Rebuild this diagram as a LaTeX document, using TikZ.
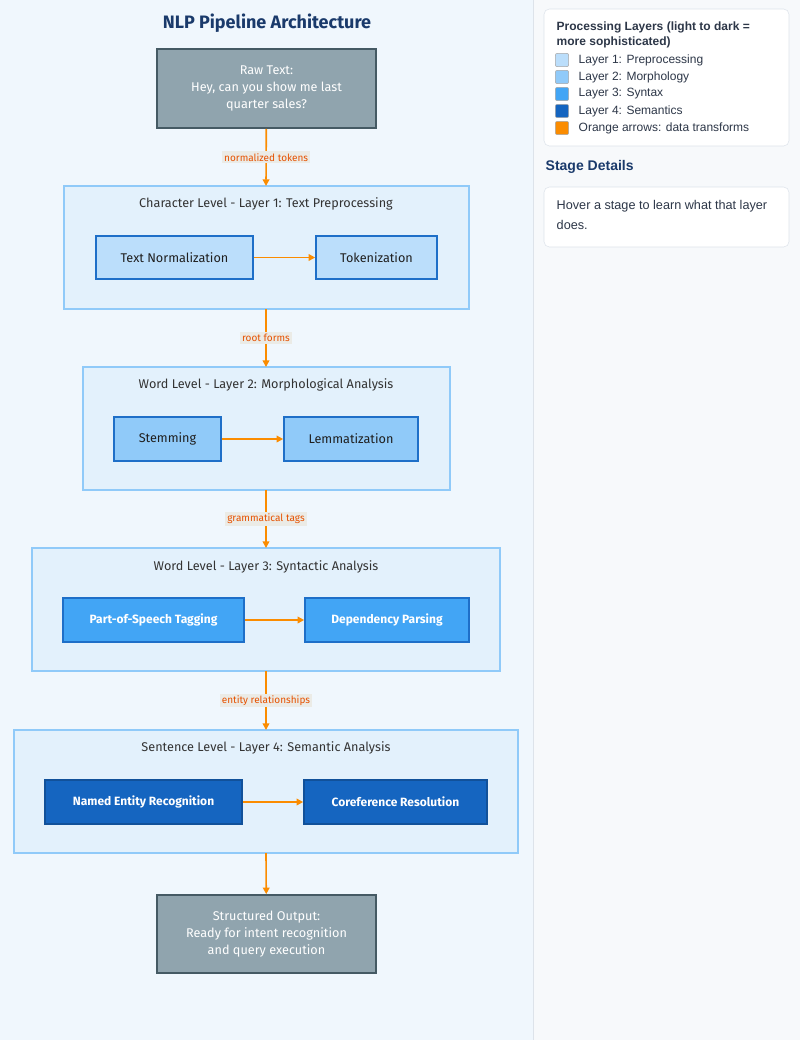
\documentclass[tikz,border=0pt]{standalone}
\usepackage{fontspec}
\setmainfont{Fira Sans}
\newfontfamily\lib{Liberation Sans}
\usetikzlibrary{arrows.meta}
\definecolor{leftbg}{HTML}{F0F7FD}
\definecolor{rightbg}{HTML}{F7F9FB}
\definecolor{titleblue}{HTML}{1A3A6B}
\definecolor{ioFill}{HTML}{90A4AE}
\definecolor{ioDraw}{HTML}{455A64}
\definecolor{clFill}{HTML}{E3F1FC}
\definecolor{clDraw}{HTML}{90CAF9}
\definecolor{lA}{HTML}{BBDEFB}
\definecolor{lB}{HTML}{90CAF9}
\definecolor{lC}{HTML}{42A5F5}
\definecolor{lD}{HTML}{1565C0}
\definecolor{bordA}{HTML}{1E6FC8}
\definecolor{orng}{HTML}{FB8C00}
\definecolor{lbltxt}{HTML}{E65100}
\definecolor{lblbg}{HTML}{EBEBE6}
\definecolor{txtdark}{HTML}{333333}
\definecolor{legtxt}{HTML}{2D3748}
\definecolor{legdraw}{HTML}{DDE3EA}
\begin{document}
\begin{tikzpicture}[x=0.75pt,y=-0.75pt,
  box/.style={draw, line width=1.2pt, inner sep=0pt, font=\fontsize{9.5}{13}\selectfont},
  io/.style={box, fill=ioFill, draw=ioDraw, text=white, align=center},
  cl/.style={draw=clDraw, fill=clFill, line width=0.8pt},
  cltitle/.style={font=\fontsize{9.5}{12}\selectfont, text=txtdark},
  st/.style={box, draw=bordA},
  arr/.style={draw=orng, line width=1.2pt, -{Triangle[length=5pt,width=5pt]}},
  lbl/.style={fill=lblbg, text=lbltxt, font=\fontsize{7.5}{9}\selectfont, inner sep=1.5pt},
  leg/.style={font=\lib\fontsize{9}{11}\selectfont, text=legtxt, anchor=west},
  sw/.style={draw=gray!70, rounded corners=1.5pt, minimum size=10pt, inner sep=0pt}]
\useasboundingbox (0,0) rectangle (800,1040);
\fill[leftbg] (0,0) rectangle (533,1040);
\fill[rightbg] (533,0) rectangle (800,1040);
\draw[legdraw] (533,0) -- (533,1040);
\node[font=\bfseries\fontsize{13.5}{16}\selectfont, text=titleblue] (title) at (267,23) {NLP Pipeline Architecture};
% clusters
\draw[cl] (64,186) rectangle (469,309);
\draw[cl] (83,367) rectangle (450,490);
\draw[cl] (32,548) rectangle (500,671);
\draw[cl] (14,730) rectangle (518,853);
\coordinate (c1t) at (266,186); \coordinate (c1b) at (266,309);
\coordinate (c2t) at (266,367); \coordinate (c2b) at (266,490);
\coordinate (c3t) at (266,548); \coordinate (c3b) at (266,671);
\coordinate (c4t) at (266,730); \coordinate (c4b) at (266,853);
\node[cltitle] (t1) at (266,204) {Character Level - Layer 1: Text Preprocessing};
\node[cltitle] (t2) at (266,385) {Word Level - Layer 2: Morphological Analysis};
\node[cltitle] (t3) at (266,567) {Word Level - Layer 3: Syntactic Analysis};
\node[cltitle] (t4) at (266,748) {Sentence Level - Layer 4: Semantic Analysis};
% io
\node[io, minimum width=219*0.75pt, minimum height=79*0.75pt] (raw) at (266.5,88.5) {Raw Text:\\Hey, can you show me last\\quarter sales?};
\node[io, minimum width=219*0.75pt, minimum height=78*0.75pt] (out) at (266.5,934) {Structured Output:\\Ready for intent recognition\\and query execution};
% stages
\node[st, fill=lA, text=txtdark!60!black, minimum width=157*0.75pt, minimum height=43*0.75pt] (norm) at (174.5,257.5) {Text Normalization};
\node[st, fill=lA, text=txtdark!60!black, minimum width=121*0.75pt, minimum height=43*0.75pt] (tok) at (376.5,257.5) {Tokenization};
\node[st, fill=lB, text=txtdark!60!black, minimum width=107*0.75pt, minimum height=44*0.75pt] (stem) at (167.5,439) {Stemming};
\node[st, fill=lB, text=txtdark!60!black, minimum width=134*0.75pt, minimum height=44*0.75pt] (lem) at (351,439) {Lemmatization};
\node[st, fill=lC, text=white, font=\bfseries\fontsize{9}{12}\selectfont, minimum width=181*0.75pt, minimum height=44*0.75pt] (pos) at (153.5,620) {Part-of-Speech Tagging};
\node[st, fill=lC, text=white, font=\bfseries\fontsize{9}{12}\selectfont, minimum width=164*0.75pt, minimum height=44*0.75pt] (dep) at (387,620) {Dependency Parsing};
\node[st, draw=lD!80!black, fill=lD, text=white, font=\bfseries\fontsize{9}{12}\selectfont, minimum width=197*0.75pt, minimum height=44*0.75pt] (ner) at (143.5,802) {Named Entity Recognition};
\node[st, draw=lD!80!black, fill=lD, text=white, font=\bfseries\fontsize{9}{12}\selectfont, minimum width=183*0.75pt, minimum height=44*0.75pt] (cor) at (395.5,802) {Coreference Resolution};
% arrows
\draw[arr] (norm) -- (tok);
\draw[arr] (stem) -- (lem);
\draw[arr] (pos) -- (dep);
\draw[arr] (ner) -- (cor);
\draw[arr] (raw) -- node[lbl] {normalized tokens} (c1t);
\draw[arr] (c1b) -- node[lbl] {root forms} (c2t);
\draw[arr] (c2b) -- node[lbl] {grammatical tags} (c3t);
\draw[arr] (c3b) -- node[lbl] {entity relationships} (c4t);
\draw[arr] (c4b) -- (out);
% legend
\draw[legdraw, fill=white, rounded corners=4pt] (544,9) rectangle (789,146);
\node[leg, font=\lib\bfseries\fontsize{9}{11}\selectfont, align=left, anchor=north west] (lt) at (552,17) {Processing Layers (light to dark =\\more sophisticated)};
\node[sw, fill=lA] (s1) at (562,60) {}; \node[leg] (l1) at (574,60) {Layer 1: Preprocessing};
\node[sw, fill=lB] (s2) at (562,77) {}; \node[leg] (l2) at (574,77) {Layer 2: Morphology};
\node[sw, fill=lC] (s3) at (562,94) {}; \node[leg] (l3) at (574,94) {Layer 3: Syntax};
\node[sw, fill=lD] (s4) at (562,111) {}; \node[leg] (l4) at (574,111) {Layer 4: Semantics};
\node[sw, fill=orng] (s5) at (562,128) {}; \node[leg] (l5) at (574,128) {Orange arrows: data transforms};
\node[leg, font=\lib\bfseries\fontsize{10.5}{12}\selectfont, text=titleblue] (sd) at (541,167) {Stage Details};
\draw[legdraw, fill=white, rounded corners=4pt] (544,187) rectangle (789,247);
\node[leg, align=left, anchor=north west, font=\lib\fontsize{9.5}{15}\selectfont] (hv) at (552,196) {Hover a stage to learn what that layer\\does.};
\end{tikzpicture}
\end{document}
